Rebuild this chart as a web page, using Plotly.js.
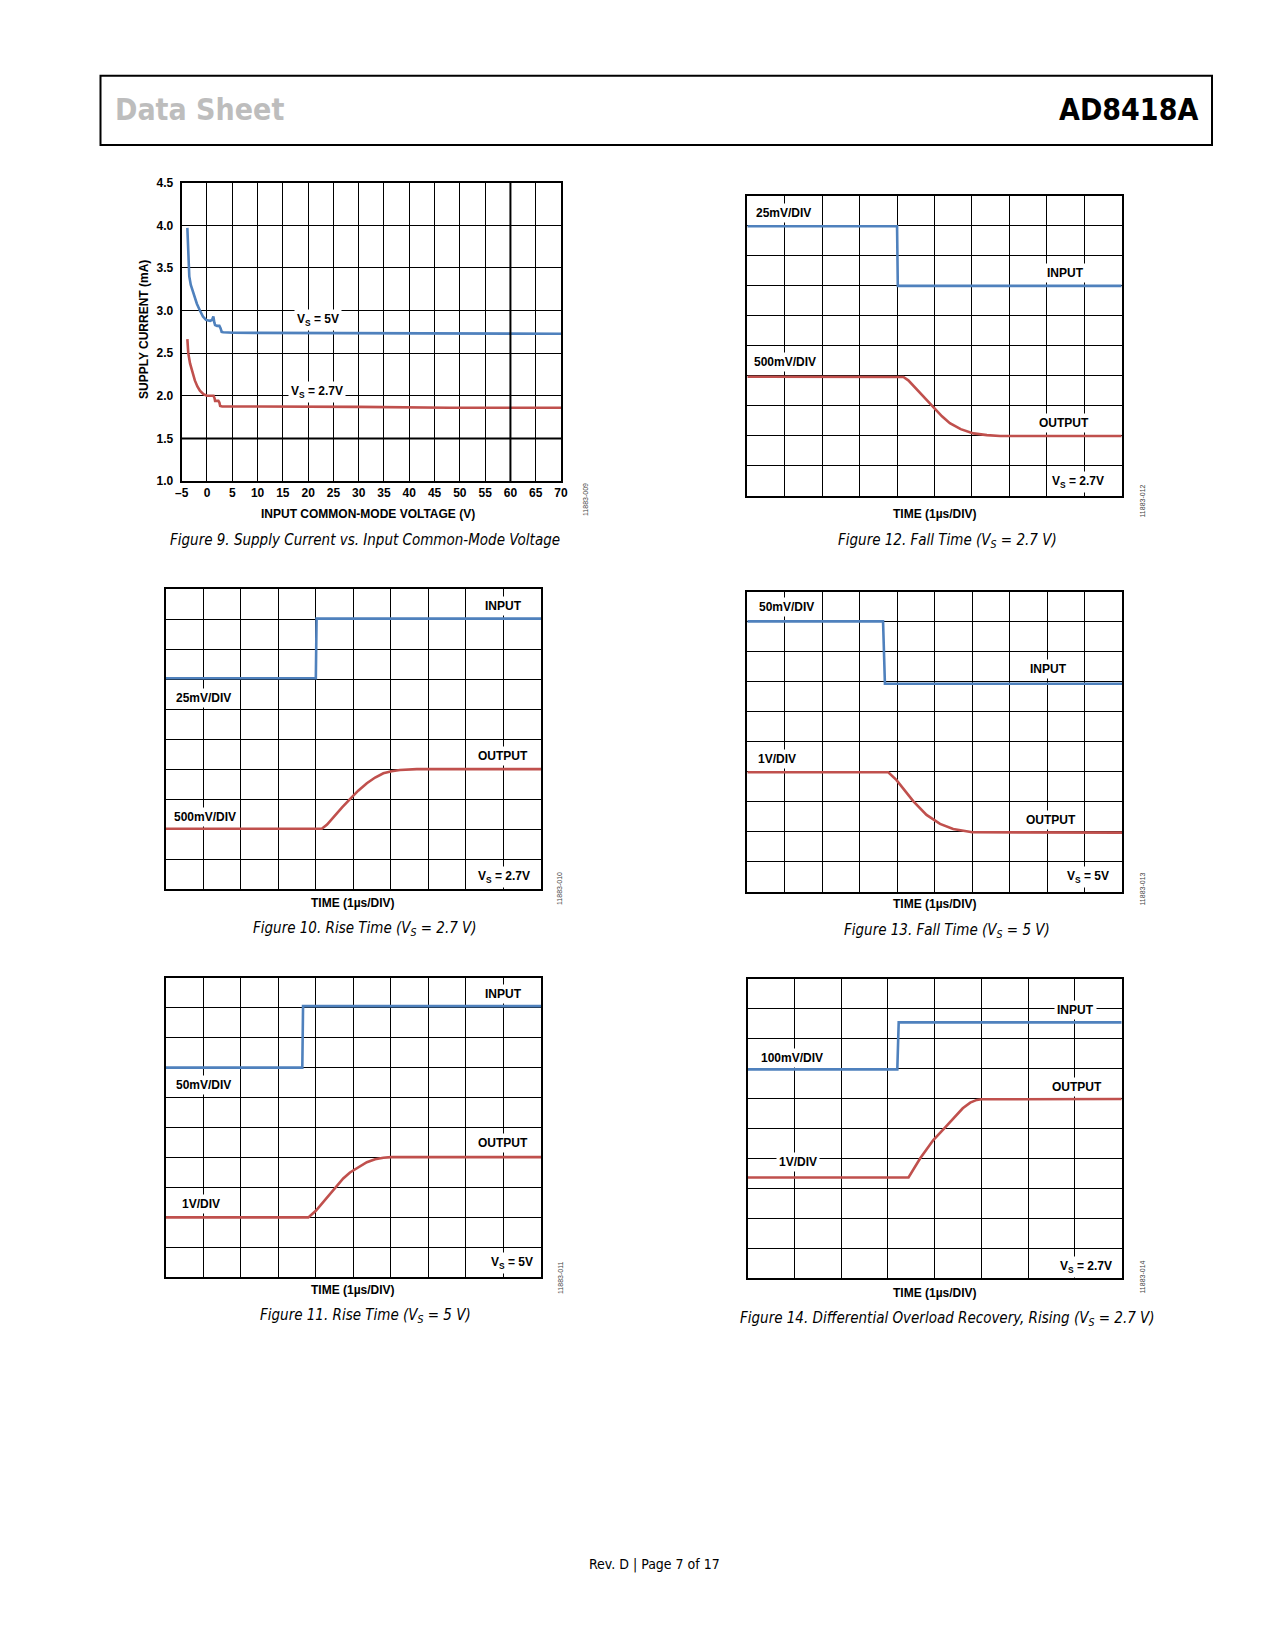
<!DOCTYPE html>
<html><head><meta charset="utf-8">
<script src="https://cdn.plot.ly/plotly-3.0.1.min.js"></script>
<style>html,body{margin:0;padding:0;background:#fff}#p{width:1275px;height:1650px}</style>
</head><body><div id="p"></div>
<script>
// ---- Figure 9 data: supply current vs input common-mode voltage
const fig9_vcm_5v = [-3.88,-3.7,-3.5,-3.2,-2.7,-2.0,-1.4,-0.8,-0.2,0.6,1.0,1.26,1.45,1.6,2.0,2.45,2.7,2.9,3.2,5.2,10,18.4,30,40,55,70];
const fig9_icc_5v = [3.97,3.6,3.40,3.30,3.20,3.08,3.0,2.93,2.89,2.88,2.89,2.93,2.86,2.83,2.82,2.82,2.79,2.75,2.745,2.74,2.738,2.736,2.733,2.73,2.728,2.728];
const fig9_vcm_27 = [-3.88,-3.7,-3.35,-2.9,-2.4,-1.9,-1.4,-0.7,0,0.6,1.3,1.5,1.6,2.25,2.45,2.6,3.0,10,18.4,30,48,60,70];
const fig9_icc_27 = [2.665,2.50,2.38,2.27,2.18,2.11,2.06,2.02,2.0,2.0,2.0,1.97,1.94,1.94,1.92,1.88,1.875,1.874,1.873,1.87,1.86,1.86,1.86];
const fig9_xticks = [-5,0,5,10,15,20,25,30,35,40,45,50,55,60,65,70];
const fig9_yticks = [1.0,1.5,2.0,2.5,3.0,3.5,4.0,4.5];

// ---- Scope traces (time in divisions, level in divisions)
const fig12_in_t = [0,4.0,4.02,10], fig12_in_v = [8.99,8.99,7.0,7.0];
const fig12_out_t = [0,4.0,4.17,4.3,4.52,4.75,4.94,5.2,5.41,5.7,6.04,6.4,6.75,10];
const fig12_out_v = [3.97,3.97,3.96,3.85,3.55,3.25,2.98,2.65,2.42,2.22,2.08,2.02,1.99,1.99];

const fig10_in_t = [0,4.0,4.02,10], fig10_in_v = [7.03,7.03,9.02,9.02];
const fig10_out_t = [0,4.16,4.3,4.47,4.7,4.91,5.13,5.36,5.58,5.8,6.02,6.24,6.69,10];
const fig10_out_v = [2.01,2.01,2.15,2.4,2.72,3.0,3.28,3.53,3.72,3.86,3.93,3.97,4.0,4.0];

const fig13_in_t = [0,3.62,3.67,10], fig13_in_v = [9.01,9.01,6.93,6.93];
const fig13_out_t = [0,3.76,3.98,4.2,4.43,4.78,5.14,5.49,6.0,10];
const fig13_out_v = [3.98,3.98,3.72,3.37,3.01,2.56,2.26,2.09,1.98,1.97];

const fig11_in_t = [0,3.64,3.66,10], fig11_in_v = [7.0,7.0,9.05,9.05];
const fig11_out_t = [0,3.8,4.0,4.2,4.38,4.56,4.73,4.91,5.13,5.36,5.58,5.8,6.0,10];
const fig11_out_v = [2.0,2.0,2.22,2.52,2.8,3.08,3.3,3.5,3.68,3.84,3.94,3.99,4.01,4.01];

const fig14_in_t = [0,3.2,3.23,8], fig14_in_v = [6.98,6.98,8.55,8.55];
const fig14_out_t = [0,3.44,3.69,3.97,4.2,4.4,4.6,4.76,4.9,5.0,8];
const fig14_out_v = [3.37,3.37,4.01,4.62,5.0,5.35,5.68,5.87,5.96,5.98,5.99];

const W = 1275, H = 1650;
const px = x => x / W, py = y => 1 - y / H;
const BLUE = '#4f81bd', RED = '#c0504d';
const ARIAL = 'Liberation Sans, Arial, sans-serif';
const CAPF = 'Liberation Sans Narrow, DejaVu Sans Condensed, Roboto, sans-serif';
const HEADF = 'Liberation Sans Narrow, DejaVu Sans Condensed, sans-serif';

// plot areas in pixels [left, right, top, bottom]
const boxes = [
  [181.7, 561, 182.7, 481],     // fig 9
  [747.3, 1121.7, 196, 495.7],  // fig 12
  [165.7, 541, 589.3, 889],     // fig 10
  [747.3, 1122.3, 591.7, 891.7],// fig 13
  [165.7, 541, 977.7, 1277.3],  // fig 11
  [747.7, 1121.7, 979, 1278.3]  // fig 14
];

const traces = [];
function line(x, y, c, i) {
  traces.push({x: x, y: y, type: 'scatter', mode: 'lines', line: {color: c, width: 2.6},
    xaxis: 'x' + (i === 1 ? '' : i), yaxis: 'y' + (i === 1 ? '' : i), hoverinfo: 'skip', showlegend: false});
}
line(fig9_vcm_5v, fig9_icc_5v, BLUE, 1);
line(fig9_vcm_27, fig9_icc_27, RED, 1);
line(fig12_in_t, fig12_in_v, BLUE, 2); line(fig12_out_t, fig12_out_v, RED, 2);
line(fig10_in_t, fig10_in_v, BLUE, 3); line(fig10_out_t, fig10_out_v, RED, 3);
line(fig13_in_t, fig13_in_v, BLUE, 4); line(fig13_out_t, fig13_out_v, RED, 4);
line(fig11_in_t, fig11_in_v, BLUE, 5); line(fig11_out_t, fig11_out_v, RED, 5);
line(fig14_in_t, fig14_in_v, BLUE, 6); line(fig14_out_t, fig14_out_v, RED, 6);

const layout = {
  width: W, height: H, margin: {l: 0, r: 0, t: 0, b: 0},
  paper_bgcolor: '#fff', plot_bgcolor: '#fff', showlegend: false,
  annotations: [], shapes: []
};

boxes.forEach((b, k) => {
  const i = k + 1, s = i === 1 ? '' : i;
  const common = {showline: true, mirror: true, linecolor: '#000', linewidth: 2,
    showgrid: true, gridcolor: '#000', gridwidth: 1, zeroline: false, ticks: '', fixedrange: true};
  if (i === 1) {
    layout.xaxis = Object.assign({}, common, {domain: [px(b[0]), px(b[1])], range: [-5, 70],
      tickmode: 'array', tickvals: fig9_xticks, ticktext: fig9_xticks.map(v => v < 0 ? '\u2013' + (-v) : String(v)),
      tickfont: {family: ARIAL, size: 12, color: '#000', weight: 700}, anchor: 'y'});
    layout.yaxis = Object.assign({}, common, {domain: [py(b[3]), py(b[2])], range: [1, 4.5],
      tickmode: 'array', tickvals: fig9_yticks, ticktext: fig9_yticks.map(v => v.toFixed(1)),
      ticklabelstandoff: 4,
      tickfont: {family: ARIAL, size: 12, color: '#000', weight: 700}, anchor: 'x'});
  } else {
    const nx = i === 6 ? 8 : 10;
    layout['xaxis' + s] = Object.assign({}, common, {domain: [px(b[0]), px(b[1])], range: [0, nx],
      dtick: 1, tick0: 0, showticklabels: false, anchor: 'y' + s});
    layout['yaxis' + s] = Object.assign({}, common, {domain: [py(b[3]), py(b[2])], range: [0, 10],
      dtick: 1, tick0: 0, showticklabels: false, anchor: 'x' + s});
  }
});

// thicker grid lines in fig 9
layout.shapes.push({type: 'line', xref: 'x', yref: 'y', x0: -5, x1: 70, y0: 1.5, y1: 1.5, line: {color: '#000', width: 2}});
layout.shapes.push({type: 'line', xref: 'x', yref: 'y', x0: 60, x1: 60, y0: 1, y1: 4.5, line: {color: '#000', width: 2}});

// header box
layout.shapes.push({type: 'rect', xref: 'paper', yref: 'paper', x0: px(100.5), x1: px(1212), y0: py(145), y1: py(75.7),
  line: {color: '#000', width: 2}});

const A = layout.annotations;
function pt(x, y, text, o) {
  A.push(Object.assign({xref: 'paper', yref: 'paper', x: px(x), y: py(y), text: text, showarrow: false,
    xanchor: 'center', yanchor: 'middle', font: {family: ARIAL, size: 12, color: '#000'}}, o || {}));
}
function lab(i, x, y, text, anchor) {
  const s = i === 1 ? '' : i;
  A.push({xref: 'x' + s, yref: 'y' + s, x: x, y: y, text: '<b>' + text + '</b>', showarrow: false,
    xanchor: anchor || 'center', yanchor: 'middle', bgcolor: '#fff', borderpad: 2,
    font: {family: ARIAL, size: 12, color: '#000'}});
}

// header texts
pt(113, 110, '<b>Data Sheet</b>', {xanchor: 'left', font: {family: HEADF, size: 30, color: '#bdbdbd'}});
pt(1200, 110, '<b>AD8418A</b>', {xanchor: 'right', font: {family: HEADF, size: 30, color: '#000'}});

// fig 9 labels
lab(1, 22, 2.89, 'V<sub>S</sub> = 5V');
lab(1, 21.7, 2.04, 'V<sub>S</sub> = 2.7V');
pt(368, 514, '<b>INPUT COMMON-MODE VOLTAGE (V)</b>');
pt(144, 330, '<b>SUPPLY CURRENT (mA)</b>', {textangle: -90});

// scope labels
lab(2, 0.14, 9.42, '25mV/DIV', 'left'); lab(2, 8.49, 7.42, 'INPUT');
lab(2, 0.11, 4.45, '500mV/DIV', 'left'); lab(2, 8.45, 2.41, 'OUTPUT');
lab(2, 9.6, 0.47, 'V<sub>S</sub> = 2.7V', 'right');

lab(3, 9.0, 9.45, 'INPUT'); lab(3, 0.2, 6.38, '25mV/DIV', 'left');
lab(3, 9.0, 4.45, 'OUTPUT'); lab(3, 0.13, 2.41, '500mV/DIV', 'left');
lab(3, 9.8, 0.41, 'V<sub>S</sub> = 2.7V', 'right');

lab(4, 0.23, 9.48, '50mV/DIV', 'left'); lab(4, 8.03, 7.42, 'INPUT');
lab(4, 0.2, 4.41, '1V/DIV', 'left'); lab(4, 8.09, 2.39, 'OUTPUT');
lab(4, 9.72, 0.5, 'V<sub>S</sub> = 5V', 'right');

lab(5, 9.0, 9.44, 'INPUT'); lab(5, 0.2, 6.42, '50mV/DIV', 'left');
lab(5, 9.0, 4.47, 'OUTPUT'); lab(5, 0.36, 2.44, '1V/DIV', 'left');
lab(5, 9.87, 0.47, 'V<sub>S</sub> = 5V', 'right');

lab(6, 7.02, 8.95, 'INPUT'); lab(6, 0.21, 7.37, '100mV/DIV', 'left');
lab(6, 7.04, 6.4, 'OUTPUT'); lab(6, 0.6, 3.9, '1V/DIV', 'left');
lab(6, 7.86, 0.39, 'V<sub>S</sub> = 2.7V', 'right');

// time labels
pt(934.5, 514, '<b>TIME (1µs/DIV)</b>');
pt(353, 903, '<b>TIME (1µs/DIV)</b>');
pt(934.5, 904, '<b>TIME (1µs/DIV)</b>');
pt(353, 1290, '<b>TIME (1µs/DIV)</b>');
pt(934.5, 1293, '<b>TIME (1µs/DIV)</b>');

// captions
const capF = {family: CAPF, size: 15, color: '#000'};
pt(365, 540, '<i>Figure 9. Supply Current vs. Input Common-Mode Voltage</i>', {font: capF});
pt(947, 540, '<i>Figure 12. Fall Time (V<sub>S</sub> = 2.7 V)</i>', {font: capF});
pt(365, 929, '<i>Figure 10. Rise Time (V<sub>S</sub> = 2.7 V)</i>', {font: capF});
pt(947, 930, '<i>Figure 13. Fall Time (V<sub>S</sub> = 5 V)</i>', {font: capF});
pt(365, 1315, '<i>Figure 11. Rise Time (V<sub>S</sub> = 5 V)</i>', {font: capF});
pt(947, 1318, '<i>Figure 14. Differential Overload Recovery, Rising (V<sub>S</sub> = 2.7 V)</i>', {font: capF});

// figure ids
const idF = {family: ARIAL, size: 7, color: '#444'};
pt(586, 500, '11883-009', {textangle: -90, font: idF});
pt(1141.5, 501, '11883-012', {textangle: -90, font: idF});
pt(559, 889, '11883-010', {textangle: -90, font: idF});
pt(1141.5, 889, '11883-013', {textangle: -90, font: idF});
pt(560, 1278, '11883-011', {textangle: -90, font: idF});
pt(1141.5, 1277, '11883-014', {textangle: -90, font: idF});

// footer
pt(655, 1564, 'Rev. D | Page 7 of 17', {font: {family: CAPF, size: 14, color: '#000'}});

Plotly.newPlot('p', traces, layout, {staticPlot: true});
</script></body></html>
